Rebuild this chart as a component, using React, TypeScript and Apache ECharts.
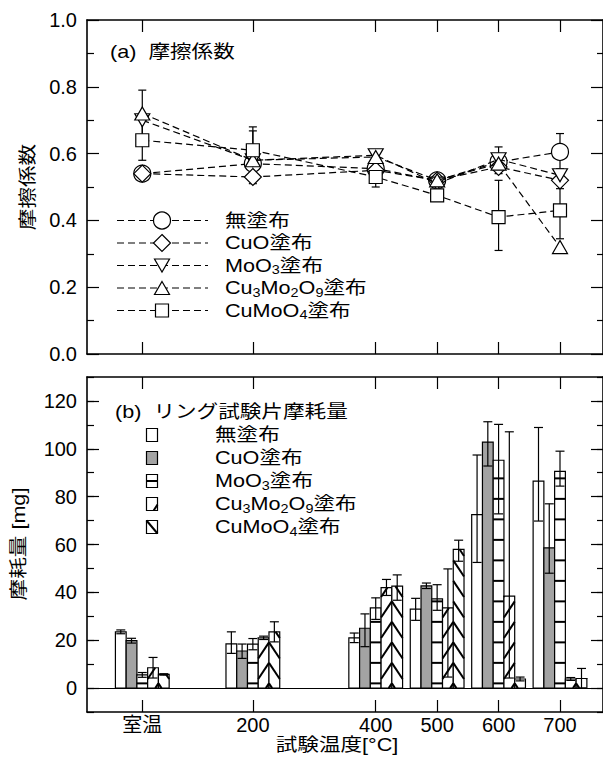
import React, { useEffect, useRef } from "react";
import * as echarts from "echarts";

const FONT = "'Liberation Sans', Arial, 'Noto Sans CJK JP', sans-serif";

// x positions (test temperature, 室温 ≈ 20 °C)
const temps = [20, 200, 400, 500, 600, 700];
const tempLabels = ["室温", "200", "400", "500", "600", "700"];

const coatingLabels = [
  "無塗布",
  "CuO塗布",
  "MoO{s|3}塗布",
  "Cu{s|3}Mo{s|2}O{s|9}塗布",
  "CuMoO{s|4}塗布",
];

// (a) friction coefficient
const fricUncoated = [0.54, 0.57, 0.555, 0.52, 0.575, 0.605];
const fricCuO = [0.54, 0.53, 0.55, 0.52, 0.56, 0.52];
const fricMoO3 = [0.70, 0.58, 0.595, 0.51, 0.583, 0.535];
const fricCu3Mo2O9 = [0.72, 0.58, 0.59, 0.52, 0.57, 0.32];
const fricCuMoO4 = [0.64, 0.61, 0.53, 0.475, 0.41, 0.43];

// error bars (a): low / high, null = none
const fricErrLowUncoated = [null, null, null, null, null, 0.555];
const fricErrHighUncoated = [null, null, null, null, null, 0.66];
const fricErrLowMoO3 = [null, 0.51, null, null, 0.54, null];
const fricErrHighMoO3 = [null, 0.668, null, null, 0.62, null];
const fricErrLowCu3Mo2O9 = [0.65, null, null, null, null, null];
const fricErrHighCu3Mo2O9 = [0.79, null, null, null, null, null];
const fricErrLowCuMoO4 = [0.58, 0.54, 0.50, null, 0.31, 0.345];
const fricErrHighCuMoO4 = [0.70, 0.68, 0.56, null, 0.52, 0.495];

// (b) ring specimen wear [mg]
const wearUncoated = [23.5, 18.5, 21, 33, 72.5, 86.5];
const wearUncoatedLow = [22.7, 14.5, 19, 28.3, 52.5, 69.8];
const wearUncoatedHigh = [24.3, 23.5, 23, 37.5, 97.4, 108.9];

const wearCuO = [19.8, 15.5, 25, 42.7, 102.8, 58.6];
const wearCuOLow = [18.8, 12.4, 17.3, 41.6, 92.8, 48];
const wearCuOHigh = [20.8, 18.4, 31, 43.9, 111.3, 77];

const wearMoO3 = [5.5, 18.4, 33.5, 37.3, 95.2, 90.6];
const wearMoO3Low = [4.5, 16, 28.7, 32.5, 72.8, 84.4];
const wearMoO3High = [6.5, 20.7, 37.7, 43.2, 110.2, 99];

const wearCu3Mo2O9 = [8.5, 21, 42, 33.5, 38.4, 3.8];
const wearCu3Mo2O9Low = [4.2, 20.3, 38.7, 4.6, 4.2, 3.2];
const wearCu3Mo2O9High = [12.8, 21.7, 45.4, 49.8, 107.1, 4.4];

const wearCuMoO4 = [5.7, 23.5, 42.6, 58, 3.8, 4];
const wearCuMoO4Low = [5.4, 19.3, 36.7, 53, 3, 0];
const wearCuMoO4High = [6, 27.7, 47.3, 61.8, 4.6, 8.2];

const yTicksB = [0, 20, 40, 60, 80, 100, 120];

// styles
const GRAY = "#a3a3a3";
const BAR_W = 17.5; // in °C units
const PAT_SP = 20.5;
const PAT_OFF = 4.7;
const PAT_SLOPE = 1.5;
const LW = 1.2;
const FS = 18;
const SX = 1.2;

function clipSeg(xa: number, ya: number, xb: number, yb: number, top: number, bottom: number) {
  const dy = yb - ya;
  const t0 = Math.max(0, (top - ya) / dy);
  const t1 = Math.min(1, (bottom - ya) / dy);
  if (t1 <= t0) return null;
  return { x1: xa + (xb - xa) * t0, y1: ya + dy * t0, x2: xa + (xb - xa) * t1, y2: ya + dy * t1 };
}

function errBarShapes(cx: number, yLo: number, yHi: number, cap: number) {
  const st = { stroke: "#000", lineWidth: LW };
  return [
    { type: "line", shape: { x1: cx, y1: yLo, x2: cx, y2: yHi }, style: st },
    { type: "line", shape: { x1: cx - cap, y1: yLo, x2: cx + cap, y2: yLo }, style: st },
    { type: "line", shape: { x1: cx - cap, y1: yHi, x2: cx + cap, y2: yHi }, style: st },
  ];
}

const makeBarRender = (k: number) => (params: any, api: any) => {
  const x = api.value(0);
  const v = api.value(1);
  const lo = api.value(2);
  const hi = api.value(3);
  const base = api.coord([x, 0]);
  const topPt = api.coord([x, v]);
  const w = api.size([BAR_W, 0])[0];
  const left = base[0] + (k - 2.5) * w;
  const right = left + w;
  const top = topPt[1];
  const bottom = base[1];
  const ch: any[] = [];
  ch.push({
    type: "rect",
    shape: { x: left, y: top, width: w, height: bottom - top },
    style: { fill: k === 1 ? GRAY : "#fff", stroke: "none" },
  });
  const anchor = bottom - PAT_OFF;
  if (k === 2) {
    for (let y = anchor; y > top + 1; y -= PAT_SP) {
      ch.push({ type: "line", shape: { x1: left, y1: y, x2: right, y2: y }, style: { stroke: "#000", lineWidth: 2 } });
    }
  }
  if (k === 3 || k === 4) {
    const dy = PAT_SLOPE * w;
    for (let n = -1; n < 200; n++) {
      const a = anchor - n * PAT_SP;
      if (a + dy < top) break;
      const seg = k === 3 ? clipSeg(right, a, left, a + dy, top, bottom) : clipSeg(left, a, right, a + dy, top, bottom);
      if (seg) ch.push({ type: "line", shape: seg, style: { stroke: "#000", lineWidth: 2 } });
    }
  }
  ch.push({
    type: "rect",
    shape: { x: left, y: top, width: w, height: bottom - top },
    style: { fill: "none", stroke: "#000", lineWidth: LW },
  });
  const cx = left + w / 2;
  const yLo = api.coord([x, lo])[1];
  const yHi = api.coord([x, hi])[1];
  ch.push(...errBarShapes(cx, yLo, yHi, 4.5));
  return { type: "group", children: ch };
};

const fricErrRender = (params: any, api: any) => {
  const x = api.value(0);
  const pLo = api.coord([x, api.value(1)]);
  const pHi = api.coord([x, api.value(2)]);
  return { type: "group", children: errBarShapes(pLo[0], pLo[1], pHi[1], 4) };
};

const richSub = {
  s: { fontSize: 12, lineHeight: 12, verticalAlign: "bottom", fontFamily: FONT, fill: "#000" },
};

export default function App() {
  const ref = useRef<HTMLDivElement>(null);

  useEffect(() => {
    if (!ref.current) return;
    const chart = echarts.init(ref.current, undefined, { renderer: "svg" });

    const fricSeries = [fricUncoated, fricCuO, fricMoO3, fricCu3Mo2O9, fricCuMoO4];
    const fricSymbols: any[] = [
      { symbol: "circle", symbolSize: 17, symbolRotate: 0 },
      { symbol: "diamond", symbolSize: 17, symbolRotate: 0 },
      { symbol: "triangle", symbolSize: [15, 13], symbolRotate: 180 },
      { symbol: "triangle", symbolSize: [15, 13], symbolRotate: 0 },
      { symbol: "rect", symbolSize: 13, symbolRotate: 0 },
    ];
    const errPairs: [Array<number | null>, Array<number | null>][] = [
      [fricErrLowUncoated, fricErrHighUncoated],
      [fricErrLowMoO3, fricErrHighMoO3],
      [fricErrLowCu3Mo2O9, fricErrHighCu3Mo2O9],
      [fricErrLowCuMoO4, fricErrHighCuMoO4],
    ];
    const errData: number[][] = [];
    errPairs.forEach(([lo, hi]) => {
      temps.forEach((t, i) => {
        if (lo[i] != null && hi[i] != null) errData.push([t, lo[i] as number, hi[i] as number]);
      });
    });

    const wear = [
      [wearUncoated, wearUncoatedLow, wearUncoatedHigh],
      [wearCuO, wearCuOLow, wearCuOHigh],
      [wearMoO3, wearMoO3Low, wearMoO3High],
      [wearCu3Mo2O9, wearCu3Mo2O9Low, wearCu3Mo2O9High],
      [wearCuMoO4, wearCuMoO4Low, wearCuMoO4High],
    ];

    const axisLine = { show: true, onZero: false, lineStyle: { color: "#000", width: 1.6 } };
    const tickStyle = { color: "#000", width: LW };
    const labelStyle = { color: "#000", fontSize: 20, fontFamily: FONT };

    const xBase = (grid: number, pos: string, labels: boolean) => ({
      type: "value",
      gridIndex: grid,
      position: pos,
      min: -70,
      max: 770,
      axisLine,
      axisTick: { show: true, inside: true, length: 12, lineStyle: tickStyle, customValues: temps },
      axisLabel: labels
        ? {
            show: true,
            margin: 3,
            ...labelStyle,
            customValues: temps,
            formatter: (v: number) => tempLabels[temps.indexOf(v)] ?? "",
          }
        : { show: false },
      splitLine: { show: false },
    });

    const textEl = (text: string, x: number, y: number, extra: any = {}) => ({
      type: "text",
      x,
      y,
      scaleX: SX,
      ...extra,
      style: {
        text,
        fontSize: FS,
        lineHeight: 21,
        fontFamily: FONT,
        fill: "#000",
        align: "left",
        verticalAlign: "middle",
        rich: richSub,
        ...(extra.style || {}),
      },
    });

    // legend graphics (a)
    const legA: any[] = [];
    const rowsA = [220.5, 243, 265.5, 288, 310.5];
    rowsA.forEach((y, i) => {
      legA.push({
        type: "line",
        shape: { x1: 117, y1: y, x2: 208, y2: y },
        style: { stroke: "#000", lineWidth: LW, lineDash: [7, 4] },
      });
      const mk = { fill: "#fff", stroke: "#000", lineWidth: LW };
      const cx = 162;
      if (i === 0) legA.push({ type: "circle", shape: { cx, cy: y, r: 8.5 }, style: mk });
      if (i === 1)
        legA.push({ type: "polygon", shape: { points: [[cx, y - 8.5], [cx + 8.5, y], [cx, y + 8.5], [cx - 8.5, y]] }, style: mk });
      if (i === 2)
        legA.push({ type: "polygon", shape: { points: [[cx - 7.5, y - 6.5], [cx + 7.5, y - 6.5], [cx, y + 6.5]] }, style: mk });
      if (i === 3)
        legA.push({ type: "polygon", shape: { points: [[cx, y - 6.5], [cx + 7.5, y + 6.5], [cx - 7.5, y + 6.5]] }, style: mk });
      if (i === 4) legA.push({ type: "rect", shape: { x: cx - 6.5, y: y - 6.5, width: 13, height: 13 }, style: mk });
      legA.push(textEl(coatingLabels[i], 225, y));
    });

    // legend graphics (b)
    const legB: any[] = [];
    const rowsB = [435, 458, 481, 504, 527];
    rowsB.forEach((y, i) => {
      const x = 146.5, w = 11, h = 13, t = y - h / 2;
      legB.push({
        type: "rect",
        shape: { x, y: t, width: w, height: h },
        style: { fill: i === 1 ? GRAY : "#fff", stroke: "#000", lineWidth: LW },
      });
      const ls = { stroke: "#000", lineWidth: 2 };
      if (i === 2) legB.push({ type: "line", shape: { x1: x, y1: y, x2: x + w, y2: y }, style: ls });
      if (i === 3) legB.push({ type: "line", shape: { x1: x + w, y1: t + h * 0.55, x2: x + w * 0.65, y2: t + h }, style: ls });
      if (i === 4) legB.push({ type: "line", shape: { x1: x, y1: t, x2: x + w, y2: t + h }, style: ls });
      legB.push(textEl(coatingLabels[i], 215, y));
    });

    const option: any = {
      animation: false,
      backgroundColor: "#fff",
      grid: [
        { left: 87, top: 20, width: 517, height: 334 },
        { left: 87, top: 377, width: 517, height: 335 },
      ],
      xAxis: [xBase(0, "bottom", false), xBase(0, "top", false), xBase(1, "bottom", true), xBase(1, "top", false)],
      yAxis: [
        {
          type: "value",
          gridIndex: 0,
          position: "left",
          min: 0,
          max: 1,
          interval: 0.2,
          axisLine,
          axisTick: { inside: true, length: 12, lineStyle: tickStyle },
          minorTick: { show: true, splitNumber: 2, length: 7, lineStyle: tickStyle },
          axisLabel: { margin: 10, ...labelStyle, formatter: (v: number) => v.toFixed(1) },
          splitLine: { show: false },
          minorSplitLine: { show: false },
        },
        {
          type: "value",
          gridIndex: 0,
          position: "right",
          min: 0,
          max: 1,
          interval: 0.2,
          axisLine,
          axisTick: { inside: true, length: 12, lineStyle: tickStyle },
          minorTick: { show: true, splitNumber: 2, length: 6, lineStyle: tickStyle },
          axisLabel: { show: false },
          splitLine: { show: false },
        },
        {
          type: "value",
          gridIndex: 1,
          position: "left",
          min: -10,
          max: 130,
          axisLine,
          axisTick: { inside: true, length: 12, lineStyle: tickStyle, customValues: yTicksB },
          axisLabel: { margin: 10, ...labelStyle, customValues: yTicksB },
          splitLine: { show: false },
        },
        {
          type: "value",
          gridIndex: 1,
          position: "left",
          min: -10,
          max: 130,
          interval: 10,
          axisLine: { show: false, onZero: false },
          axisTick: { inside: true, length: 7, lineStyle: tickStyle },
          axisLabel: { show: false },
          splitLine: { show: false },
        },
        {
          type: "value",
          gridIndex: 1,
          position: "right",
          min: -10,
          max: 130,
          axisLine,
          axisTick: { inside: true, length: 12, lineStyle: tickStyle, customValues: yTicksB },
          axisLabel: { show: false },
          splitLine: { show: false },
        },
        {
          type: "value",
          gridIndex: 1,
          position: "right",
          min: -10,
          max: 130,
          interval: 10,
          axisLine: { show: false, onZero: false },
          axisTick: { inside: true, length: 6, lineStyle: tickStyle },
          axisLabel: { show: false },
          splitLine: { show: false },
        },
      ],
      series: [
        {
          type: "custom",
          name: "errA",
          xAxisIndex: 0,
          yAxisIndex: 0,
          z: 1,
          silent: true,
          dimensions: ["x", "lo", "hi"],
          encode: { x: 0, y: [1, 2] },
          data: errData,
          renderItem: fricErrRender,
        },
        ...fricSeries.map((arr, i) => ({
          type: "line",
          name: coatingLabels[i],
          xAxisIndex: 0,
          yAxisIndex: 0,
          z: 3 + i,
          data: temps.map((t, j) => [t, arr[j]]),
          ...fricSymbols[i],
          showSymbol: true,
          lineStyle: { color: "#000", width: LW, type: [7, 4] },
          itemStyle: { color: "#fff", borderColor: "#000", borderWidth: LW },
        })),
        {
          type: "line",
          name: "baseline",
          xAxisIndex: 2,
          yAxisIndex: 2,
          data: [],
          silent: true,
          markLine: {
            silent: true,
            symbol: "none",
            label: { show: false },
            lineStyle: { color: "#000", type: "solid", width: LW },
            data: [{ yAxis: 0 }],
          },
        },
        ...wear.map(([vals, lows, highs], k) => ({
          type: "custom",
          name: "wear" + k,
          xAxisIndex: 2,
          yAxisIndex: 2,
          z: 2,
          silent: true,
          dimensions: ["x", "v", "lo", "hi"],
          encode: { x: 0, y: [1, 2, 3] },
          data: temps.map((t, j) => [t, vals[j], lows[j], highs[j]]),
          renderItem: makeBarRender(k),
        })),
      ],
      graphic: [
        ...legA,
        ...legB,
        textEl("(a)  摩擦係数", 110, 52),
        textEl("(b)  リング試験片摩耗量", 115, 412),
        textEl("試験温度[°C]", 337, 745, { style: { align: "center" } }),
        textEl("摩擦係数", 28, 187, { rotation: Math.PI / 2, style: { align: "center" } }),
        textEl("摩耗量 [mg]", 19, 544, { rotation: Math.PI / 2, style: { align: "center" } }),
      ],
    };

    chart.setOption(option);
    return () => chart.dispose();
  }, []);

  return (
    <div
      ref={ref}
      style={{ position: "absolute", left: 0, top: 0, width: 603, height: 760, background: "#fff" }}
    />
  );
}
